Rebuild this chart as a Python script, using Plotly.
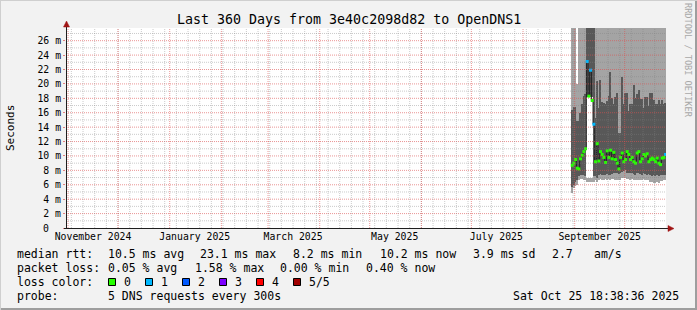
import plotly.graph_objects as go
import pandas as pd

# ---------------- geometry of the reference (pixels) ----------------
W, H = 697, 310
PL, PR, PT, PB = 66, 666, 28, 228          # plot box

START = pd.Timestamp("2024-10-30 18:38:36")
END = pd.Timestamp("2025-10-25 18:38:36")
Y_MAX = 27.76

# ---------------- data (milliseconds) ----------------
DAYS = pd.date_range("2025-08-30", "2025-10-25", freq="D")

MEDIAN = [8.7, 9.0, 9.5, 8.3, 8.2, 9.6, 10.1, 10.6, 11.0, 23.1,
          18.3, 21.9, 17.7, 14.4, 9.2, 11.7, 9.3, 10.6, 10.2, 9.8,
          9.1, 10.7, 9.8, 10.8, 9.6, 10.5, 9.5, 9.0, 8.2, 9.8,
          10.4, 9.2, 9.5, 10.6, 10.2, 9.5, 9.8, 9.2, 9.0, 10.4,
          10.6, 9.2, 9.6, 10.2, 10.0, 10.3, 9.2, 9.5, 9.7, 9.5,
          9.2, 9.7, 9.0, 8.8, 9.7, 9.8, 10.2]

LOSS = [0, 0, 0, 0, 0, 0, 0, 0, 0, 1,
        0, 1, 0, 1, 0, 0, 0, 0, 0, 0,
        0, 0, 0, 0, 0, 0, 0, 0, 0, 0,
        0, 0, 0, 0, 0, 0, 0, 0, 0, 0,
        0, 0, 0, 0, 0, 0, 0, 0, 0, 0,
        0, 0, 0, 0, 0, 0, 1]

# outer smoke band (fastest ping .. slowest ping); 40 = beyond the top of the graph
OUTER_LO = [4.9, 5.6, 5.8, 6.0, 6.7, 6.8, 6.8, 6.7, 6.6, 6.4,
            6.4, 6.4, 6.4, 6.4, 6.6, 6.4, 6.6, 6.8, 6.7, 6.7,
            6.8, 6.7, 6.8, 6.7, 6.8, 6.8, 6.7, 6.6, 6.6, 6.7,
            6.9, 6.9, 6.9, 6.8, 6.8, 6.7, 6.8, 6.7, 6.6, 6.7,
            6.7, 6.6, 6.7, 6.8, 6.7, 6.6, 6.6, 6.4, 6.4, 6.3,
            6.3, 6.4, 6.3, 6.5, 6.5, 6.6, 6.6]
OUTER_HI = [40, 40, 40, 20.0, 40, 40, 40, 40, 40, 7.0,
            7.0, 7.0, 7.0, 40, 40, 40, 40, 40, 40, 40,
            40, 40, 40, 40, 40, 40, 40, 40, 40, 40,
            40, 40, 40, 40, 40, 40, 40, 40, 40, 40,
            40, 40, 40, 40, 40, 40, 40, 40, 40, 40,
            40, 40, 40, 40, 40, 40, 40]
# inner smoke band (2nd .. 4th ping)
INNER_LO = [5.7, 6.0, 6.4, 6.7, 7.2, 7.4, 7.4, 7.3, 7.2, 18.2,
            18.2, 18.2, 18.2, 7.2, 7.2, 7.0, 7.3, 7.5, 7.4, 7.3,
            7.4, 7.5, 7.3, 7.4, 7.5, 7.6, 7.7, 7.6, 7.5, 7.6,
            7.8, 7.9, 8.0, 7.7, 7.6, 7.6, 7.7, 7.5, 7.4, 7.6,
            7.6, 7.5, 7.4, 7.6, 7.5, 7.4, 7.5, 7.3, 7.2, 7.3,
            7.2, 7.3, 7.2, 7.4, 7.3, 7.4, 7.4]
INNER_HI = [16.4, 16.8, 16.8, 14.8, 14.8, 16.0, 17.2, 18.3, 18.6, 40,
            40, 40, 40, 40, 15.3, 20.4, 16.7, 20.6, 17.5, 17.4,
            17.2, 17.6, 18.3, 21.6, 18.0, 17.2, 18.2, 18.8, 13.2, 13.2,
            21.0, 17.2, 18.8, 18.8, 16.2, 17.2, 17.2, 19.9, 18.0, 18.6,
            19.2, 17.9, 17.9, 16.7, 18.2, 18.2, 17.0, 18.7, 18.7, 17.7,
            17.2, 17.2, 17.7, 17.2, 17.7, 17.2, 17.4]

LOSS_COLORS = ["#26ff00", "#00b8ff", "#0059ff", "#7e00ff", "#ff0000", "#a10000"]
LOSS_LABELS = ["0", "1", "2", "3", "4", "5/5"]

Y_TICKS = list(range(0, 27, 2))
Y_TICKTEXT = [""] + [f"{v} m" for v in Y_TICKS[1:]]   # the "0" label is set apart (no unit), see below
X_TICKVALS = ["2024-11-16", "2025-01-16", "2025-03-16", "2025-05-16", "2025-07-16", "2025-09-16"]
X_TICKTEXT = ["November 2024", "January 2025", "March 2025", "May 2025", "July 2025", "September 2025"]

TITLE = "Last 360 Days from 3e40c2098d82 to OpenDNS1"
STATS = [
    [(16, "median rtt:"), (107, "10.5 ms avg"), (199, "23.1 ms max"), (292, "8.2 ms min"),
     (379, "10.2 ms now"), (472, "3.9 ms sd"), (551, "2.7"), (593, "am/s")],
    [(16, "packet loss:"), (107, "0.05 % avg"), (194, "1.58 % max"), (279, "0.00 % min"),
     (365, "0.40 % now")],
    [(16, "loss color:")],
    [(16, "probe:"), (107, "5 DNS requests every 300s")],
]
ROW_Y = [254, 268, 282, 296]

MONO = "DejaVu Sans Mono"
BG = "#F2F2F2"
MINOR = "rgba(130,130,130,0.42)"
MAJOR = "rgba(222,80,80,0.6)"


def px(x):
    return (x - PL) / (PR - PL)


def py(y):
    return (PB - y) / (PB - PT)


DAY = pd.Timedelta(days=1)
MS_DAY = 86400000

fig = go.Figure()

# smoke
fig.add_trace(go.Bar(x=DAYS, base=OUTER_LO, y=[h - l for h, l in zip(OUTER_HI, OUTER_LO)],
                     width=MS_DAY, offset=0, marker=dict(color="#a4a4a4", line=dict(width=0)),
                     hoverinfo="skip", showlegend=False))
fig.add_trace(go.Bar(x=DAYS, base=INNER_LO, y=[h - l for h, l in zip(INNER_HI, INNER_LO)],
                     width=MS_DAY, offset=0, marker=dict(color="#585858", line=dict(width=0)),
                     hoverinfo="skip", showlegend=False))

# median line (step) and loss-coloured median marks
fig.add_trace(go.Scatter(x=list(DAYS) + [DAYS[-1] + DAY], y=MEDIAN + [MEDIAN[-1]],
                         mode="lines", line=dict(color="#202020", width=1, shape="hv"),
                         hoverinfo="skip", showlegend=False))
fig.add_trace(go.Scatter(x=[d + DAY / 2 for d in DAYS], y=MEDIAN, mode="markers",
                         marker=dict(symbol="square", size=3, color=[LOSS_COLORS[l] for l in LOSS],
                                     line=dict(width=0)),
                         hoverinfo="skip", showlegend=False))

shapes = []
# horizontal grid (above data, as rrdtool does)
for v in range(1, 28):
    major = v % 2 == 0
    shapes.append(dict(type="line", xref="paper", yref="y", x0=0, x1=1, y0=v, y1=v, layer="above",
                       line=dict(color=MAJOR if major else MINOR, width=1, dash="1px,1px")))
# vertical grid: weeks (minor) and months (major)
for d in pd.date_range("2024-11-03", END, freq="W-SUN"):
    shapes.append(dict(type="line", xref="x", yref="paper", x0=d, x1=d, y0=0, y1=1, layer="above",
                       line=dict(color=MINOR, width=1, dash="1px,1px")))
for d in pd.date_range("2024-11-01", END, freq="MS"):
    shapes.append(dict(type="line", xref="x", yref="paper", x0=d, x1=d, y0=0, y1=1, layer="above",
                       line=dict(color=MAJOR, width=1, dash="1px,1px")))

AX = "#1f1f1f"
ARROW = "#a01515"
# axes
shapes.append(dict(type="line", xref="paper", yref="paper", x0=px(66.5), x1=px(66.5), y0=py(228), y1=py(24),
                   layer="above", line=dict(color=AX, width=1)))
shapes.append(dict(type="line", xref="paper", yref="paper", x0=px(64), x1=px(670), y0=py(228.5), y1=py(228.5),
                   layer="above", line=dict(color=AX, width=1)))
shapes.append(dict(type="path", xref="paper", yref="paper", layer="above",
                   path=f"M {px(63.5)},{py(27)} L {px(69.5)},{py(27)} L {px(66.5)},{py(21)} Z",
                   fillcolor=ARROW, line=dict(color=ARROW, width=0.5)))
shapes.append(dict(type="path", xref="paper", yref="paper", layer="above",
                   path=f"M {px(668)},{py(225.5)} L {px(668)},{py(231.5)} L {px(674)},{py(228.5)} Z",
                   fillcolor=ARROW, line=dict(color=ARROW, width=0.5)))

# legend colour boxes
for k, c in enumerate(LOSS_COLORS):
    x0 = 108.5 + 37 * k
    shapes.append(dict(type="rect", xref="paper", yref="paper", x0=px(x0), x1=px(x0 + 7),
                       y0=py(278.5), y1=py(285.5), fillcolor=c, line=dict(color="black", width=1)))

# frame (3d border)
shapes.append(dict(type="line", xref="paper", yref="paper", x0=px(0), x1=px(697), y0=py(309), y1=py(309),
                   line=dict(color="#9e9e9e", width=2)))
shapes.append(dict(type="line", xref="paper", yref="paper", x0=px(696), x1=px(696), y0=py(0), y1=py(310),
                   line=dict(color="#9e9e9e", width=2)))
shapes.append(dict(type="line", xref="paper", yref="paper", x0=px(0), x1=px(697), y0=py(0.5), y1=py(0.5),
                   line=dict(color="#cfcfcf", width=1)))
shapes.append(dict(type="line", xref="paper", yref="paper", x0=px(0.5), x1=px(0.5), y0=py(0), y1=py(310),
                   line=dict(color="#cfcfcf", width=1)))

ann = []
ann.append(dict(text=TITLE, x=px(348.5), y=py(19), xref="paper", yref="paper", showarrow=False,
                xanchor="center", yanchor="middle", font=dict(family=MONO, size=13.3, color="black")))
ann.append(dict(text="Seconds", x=px(10), y=py(128), xref="paper", yref="paper", showarrow=False,
                textangle=-90, xanchor="center", yanchor="middle",
                font=dict(family=MONO, size=11, color="black")))
ann.append(dict(text="RRDTOOL / TOBI OETIKER", x=px(688), y=py(60), xref="paper", yref="paper",
                showarrow=False, textangle=90, xanchor="center", yanchor="middle",
                font=dict(family=MONO, size=8.6, color="#a8a8a8")))
# zero label of the y axis (rrdtool writes it without unit, aligned on the numbers)
ann.append(dict(text=str(Y_TICKS[0]), x=0, y=Y_TICKS[0], xref="paper", yref="y", showarrow=False,
                xanchor="right", yanchor="middle", borderpad=0, xshift=-16,
                font=dict(family=MONO, size=9.8, color="black")))
for row, yy in zip(STATS, ROW_Y):
    for xx, t in row:
        ann.append(dict(text=t, x=px(xx), y=py(yy), xref="paper", yref="paper", showarrow=False,
                        xanchor="left", yanchor="middle", borderpad=0,
                        font=dict(family=MONO, size=11.5, color="black")))
for k, lab in enumerate(LOSS_LABELS):
    ann.append(dict(text=lab, x=px(123 + 37 * k), y=py(282), xref="paper", yref="paper", showarrow=False,
                    xanchor="left", yanchor="middle", borderpad=0,
                    font=dict(family=MONO, size=11.5, color="black")))
ann.append(dict(text="Sat Oct 25 18:38:36 2025", x=px(680), y=py(296), xref="paper", yref="paper",
                showarrow=False, xanchor="right", yanchor="middle", borderpad=0,
                font=dict(family=MONO, size=11.5, color="black")))

fig.update_layout(
    width=W, height=H, autosize=False,
    margin=dict(l=PL, r=W - PR, t=PT, b=H - PB, pad=0),
    paper_bgcolor=BG, plot_bgcolor="white",
    barmode="overlay", bargap=0, showlegend=False,
    shapes=shapes, annotations=ann,
    xaxis=dict(type="date", range=[START, END], showgrid=False, zeroline=False, showline=False,
               tickmode="array", tickvals=X_TICKVALS, ticktext=X_TICKTEXT, ticks="",
               ticklabelstandoff=1,
               tickfont=dict(family=MONO, size=9.8, color="black"), fixedrange=True),
    yaxis=dict(range=[0, Y_MAX], showgrid=False, zeroline=False, showline=False,
               tickmode="array", tickvals=Y_TICKS, ticktext=Y_TICKTEXT,
               ticks="outside", ticklen=2, tickcolor="rgba(222,80,80,0.7)",
               tickfont=dict(family=MONO, size=9.8, color="black"), fixedrange=True),
)

fig.write_html("out.html")
